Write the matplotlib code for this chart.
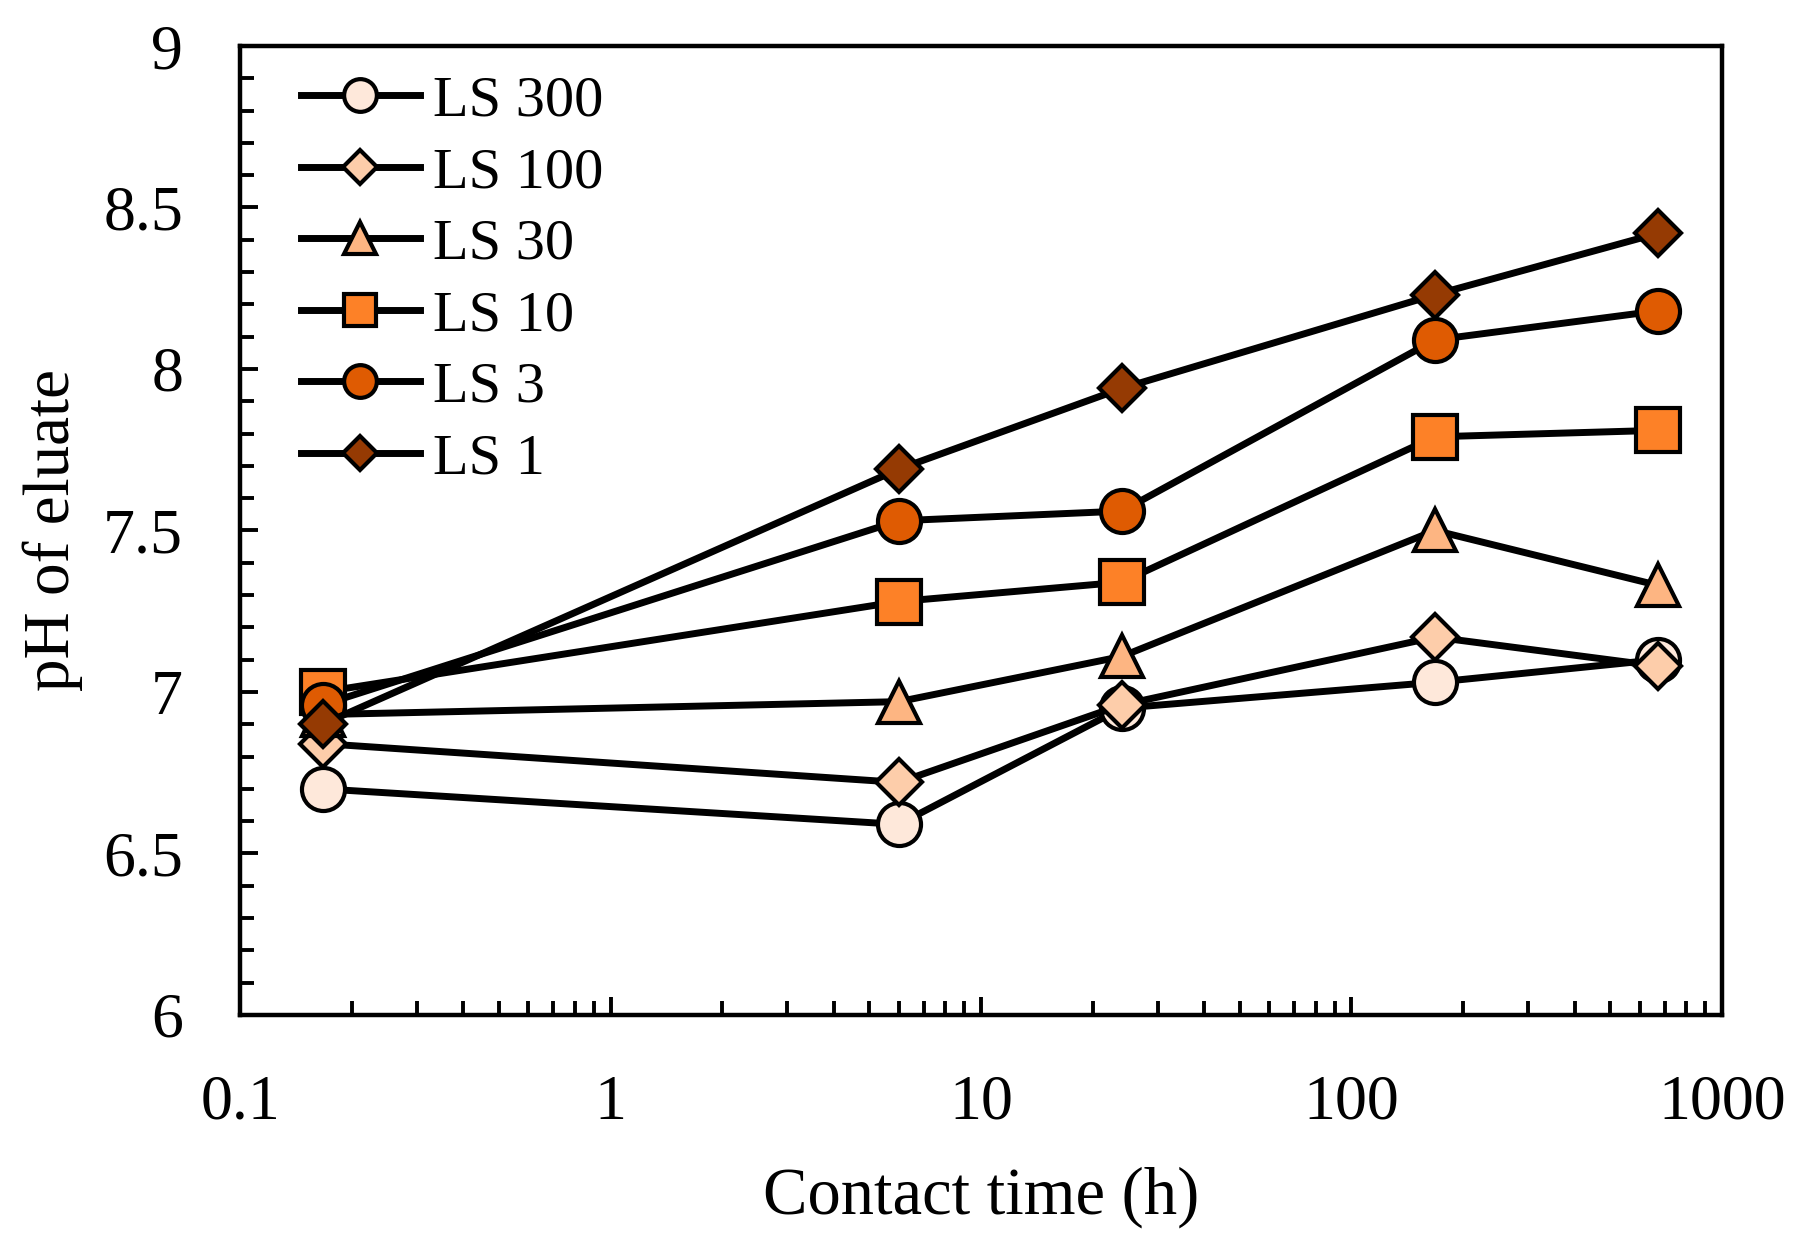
import matplotlib
matplotlib.use('Agg')
import matplotlib.pyplot as plt
from matplotlib.ticker import MultipleLocator, LogLocator, FixedLocator, FixedFormatter

plt.rcParams['font.family'] = ['Liberation Serif', 'DejaVu Serif']

# Contact time (h) and pH of eluate for each liquid/solid ratio
contact_time = [0.167, 6, 24, 168, 672]
ph_ls300 = [6.70, 6.59, 6.95, 7.03, 7.10]
ph_ls100 = [6.84, 6.72, 6.96, 7.17, 7.08]
ph_ls30 = [6.93, 6.97, 7.11, 7.50, 7.33]
ph_ls10 = [7.00, 7.28, 7.34, 7.79, 7.81]
ph_ls3 = [6.96, 7.53, 7.56, 8.09, 8.18]
ph_ls1 = [6.90, 7.69, 7.94, 8.23, 8.42]

labels = ['LS 300', 'LS 100', 'LS 30', 'LS 10', 'LS 3', 'LS 1']
series = [ph_ls300, ph_ls100, ph_ls30, ph_ls10, ph_ls3, ph_ls1]
markers = ['o', 'D', '^', 's', 'o', 'D']
colors = ['#FEE8DA', '#FDCDAA', '#FDB582', '#FD8127', '#DF5B02', '#953A03']
sizes = [31, 23, 30, 31, 31, 23]

fig = plt.figure(figsize=(18.05, 12.4), dpi=100)
ax = fig.add_axes([0.133, 0.1815, 0.821, 0.7814])

for y, lab, m, c, s in zip(series, labels, markers, colors, sizes):
    ax.plot(contact_time, y, color='black', linewidth=5, marker=m,
            markersize=s, markerfacecolor=c, markeredgecolor='black',
            markeredgewidth=3, label=lab)

ax.set_xscale('log')
ax.set_xlim(0.1, 1000)
ax.set_ylim(6, 9)

ax.xaxis.set_major_locator(FixedLocator([0.1, 1, 10, 100, 1000]))
ax.xaxis.set_major_formatter(FixedFormatter(['0.1', '1', '10', '100', '1000']))
ax.xaxis.set_minor_locator(LogLocator(base=10, subs=range(2, 10)))
ax.yaxis.set_major_locator(MultipleLocator(0.5))
ax.yaxis.set_minor_locator(MultipleLocator(0.1))
ax.yaxis.set_major_formatter(plt.FuncFormatter(lambda v, p: f'{v:g}'))

ax.tick_params(axis='both', which='both', direction='in', top=False, right=False,
               width=2.8, labelsize=46)
ax.tick_params(axis='both', which='major', length=13)
ax.tick_params(axis='both', which='minor', length=10)
ax.tick_params(axis='x', which='major', pad=43)
ax.tick_params(axis='y', which='major', pad=41)
for sp in ax.spines.values():
    sp.set_linewidth(3.2)

ax.set_xlabel('Contact time (h)', fontsize=48)
ax.set_ylabel('pH of eluate', fontsize=47)
ax.xaxis.set_label_coords(0.5, -0.156)
ax.yaxis.set_label_coords(-0.106, 0.5)

ax.legend(loc='upper left', bbox_to_anchor=(0.041, 0.970), frameon=False,
          fontsize=42, handlelength=2.04, handletextpad=0.22, labelspacing=0.32,
          borderpad=0, borderaxespad=0, numpoints=1, markerscale=0.76)

fig.savefig('out.png', dpi=100)
